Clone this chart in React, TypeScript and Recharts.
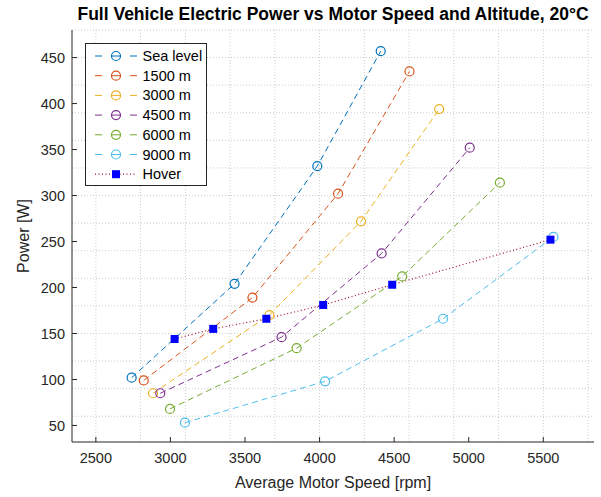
import { LineChart, Line, XAxis, YAxis, CartesianGrid } from 'recharts';

// axis ticks
const xTicks = [2500, 3000, 3500, 4000, 4500, 5000, 5500];
const yTicks = [50, 100, 150, 200, 250, 300, 350, 400, 450];

// motor speed [rpm] / power [W]
const seaLevelSpeed = [2740, 3430, 3985, 4410];
const seaLevelPower = [102, 204, 332, 457];
const alt1500Speed = [2821, 3550, 4124, 4603];
const alt1500Power = [99, 189, 302, 435];
const alt3000Speed = [2883, 3663, 4278, 4802];
const alt3000Power = [85, 170, 272, 394];
const alt4500Speed = [2932, 3745, 4416, 5007];
const alt4500Power = [85, 146, 237, 352];
const alt6000Speed = [2997, 3846, 4554, 5209];
const alt6000Power = [68, 134, 212, 314];
const alt9000Speed = [3097, 4037, 4828, 5568];
const alt9000Power = [53, 98, 166, 255];
const hoverSpeed = [3028, 3287, 3643, 4024, 4487, 5548];
const hoverPower = [144, 155, 166, 181, 203, 252];

const seriesNames = ['Sea level', '1500 m', '3000 m', '4500 m', '6000 m', '9000 m'];
const seriesColors = ['#0072BD', '#D95319', '#EDB120', '#7E2F8E', '#77AC30', '#4DBEEE'];
const HOVER_COLOR = '#A2142F';

const toPoints = (speed: number[], power: number[]) =>
  speed.map((s, i) => ({ speed: s, power: power[i] }));

const altitudeData = [
  toPoints(seaLevelSpeed, seaLevelPower),
  toPoints(alt1500Speed, alt1500Power),
  toPoints(alt3000Speed, alt3000Power),
  toPoints(alt4500Speed, alt4500Power),
  toPoints(alt6000Speed, alt6000Power),
  toPoints(alt9000Speed, alt9000Power),
];
const hoverData = toPoints(hoverSpeed, hoverPower);

// minor grid (MATLAB style dotted)
const gridX: number[] = [];
for (let v = 2400; v <= 5800; v += 100) gridX.push(v);
const gridY: number[] = [];
for (let v = 40; v <= 480; v += 10) gridY.push(v);

const FONT = '"Liberation Sans", Arial, Helvetica, sans-serif';
const AXIS = '#262626';

const SquareDot = (props: any) => {
  const { cx, cy } = props;
  if (cx == null || cy == null) return null;
  return <rect x={cx - 4} y={cy - 4} width={8} height={8} fill="#0000FF" />;
};

export default function App() {
  return (
    <div style={{ position: 'absolute', left: 0, top: 0, width: 601, height: 497, background: '#fff', fontFamily: FONT }}>
      <LineChart
        width={601}
        height={497}
        margin={{ top: 30, right: 7, bottom: 25, left: 0 }}
        style={{ fontFamily: FONT }}
      >
        <CartesianGrid
          stroke="#cccccc"
          strokeDasharray="1 2"
          verticalValues={gridX}
          horizontalValues={gridY}
        />
        <XAxis
          type="number"
          dataKey="speed"
          domain={[2340, 5840]}
          ticks={xTicks}
          allowDataOverflow
          height={30}
          tickSize={-5}
          tickMargin={16}
          axisLine={{ stroke: AXIS }}
          tickLine={{ stroke: AXIS }}
          tick={{ fill: AXIS, fontSize: 14.5 }}
        />
        <YAxis
          type="number"
          dataKey="power"
          domain={[32, 480]}
          ticks={yTicks}
          allowDataOverflow
          width={72}
          tickSize={-5}
          tickMargin={12}
          axisLine={{ stroke: AXIS }}
          tickLine={{ stroke: AXIS }}
          tick={{ fill: AXIS, fontSize: 14.5 }}
        />
        {altitudeData.map((d, i) => (
          <Line
            key={seriesNames[i]}
            data={d}
            dataKey="power"
            name={seriesNames[i]}
            type="linear"
            stroke={seriesColors[i]}
            strokeWidth={1}
            strokeDasharray="6 4"
            dot={{ r: 4.5, fill: 'none', stroke: seriesColors[i], strokeWidth: 1.2, strokeDasharray: '' }}
            isAnimationActive={false}
          />
        ))}
        <Line
          data={hoverData}
          dataKey="power"
          name="Hover"
          type="linear"
          stroke={HOVER_COLOR}
          strokeWidth={1.2}
          strokeDasharray="1 2.5"
          dot={<SquareDot />}
          isAnimationActive={false}
        />
      </LineChart>

      <svg
        width={601}
        height={497}
        style={{ position: 'absolute', left: 0, top: 0, pointerEvents: 'none' }}
        fontFamily={FONT}
      >
        <text x={333} y={20} textAnchor="middle" fontSize={17.5} fontWeight="bold" fill="#000">
          Full Vehicle Electric Power vs Motor Speed and Altitude, 20°C
        </text>
        <text x={333} y={488} textAnchor="middle" fontSize={16} fill={AXIS}>
          Average Motor Speed [rpm]
        </text>
        <text x={29} y={236} textAnchor="middle" fontSize={16} fill={AXIS} transform="rotate(-90 29 236)">
          Power [W]
        </text>

        <rect x={85.5} y={43.5} width={121} height={142} fill="#fff" stroke={AXIS} strokeWidth={1} />
        {seriesNames.map((n, i) => {
          const y = 56 + i * 19.7;
          const c = seriesColors[i];
          return (
            <g key={n}>
              <line x1={95} x2={102} y1={y} y2={y} stroke={c} strokeWidth={1} />
              <line x1={111} x2={121} y1={y} y2={y} stroke={c} strokeWidth={1} />
              <line x1={130} x2={137} y1={y} y2={y} stroke={c} strokeWidth={1} />
              <circle cx={116} cy={y} r={4.5} fill="none" stroke={c} strokeWidth={1.2} />
              <text x={142.5} y={y} dominantBaseline="central" fontSize={14.5} fill="#000">
                {n}
              </text>
            </g>
          );
        })}
        <g>
          <line x1={95} x2={137} y1={174.2} y2={174.2} stroke={HOVER_COLOR} strokeWidth={1.2} strokeDasharray="1 2.5" />
          <rect x={112} y={170.2} width={8} height={8} fill="#0000FF" />
          <text x={142.5} y={174.2} dominantBaseline="central" fontSize={14.5} fill="#000">
            Hover
          </text>
        </g>
      </svg>
    </div>
  );
}
